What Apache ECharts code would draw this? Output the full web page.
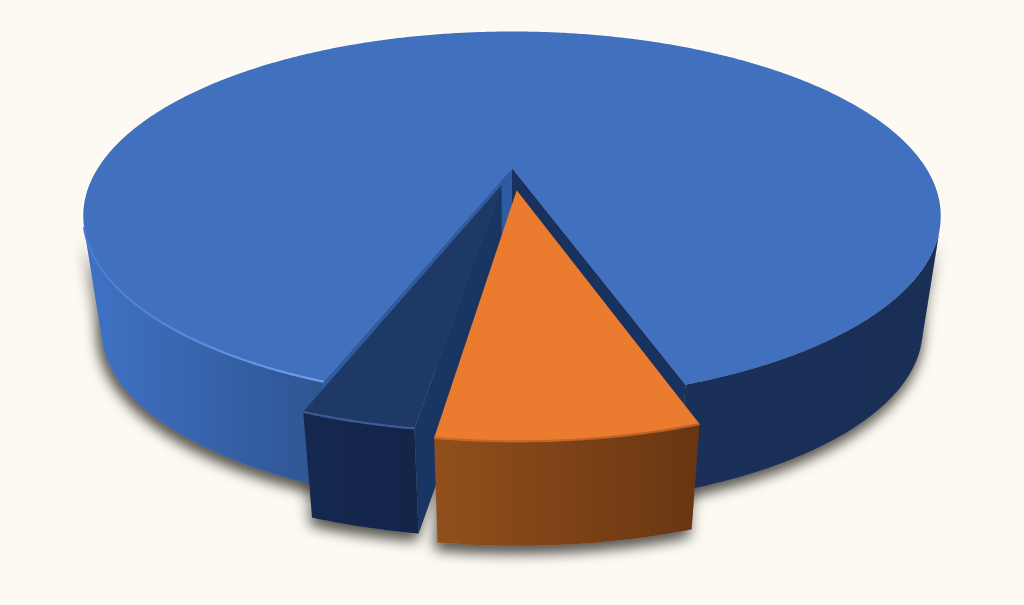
<!DOCTYPE html>
<html><head><meta charset="utf-8">
<style>html,body{margin:0;padding:0;background:#fdf9f3}#c{width:1024px;height:605px;filter:blur(0.5px)}</style>
<script src="https://cdn.jsdelivr.net/npm/echarts@6/dist/echarts.min.js"></script>
</head><body><div id="c"></div>
<script>
// data (share of the full circle, %)
const sliceNames  = ['A', 'B', 'C'];
const sliceValues = [89.3, 3.28, 7.42];

// drawing parameters
const startAngle = 18.4;             // degrees clockwise from the front of the disk
const explode = [0, 0.1, 0.125];
const view = {cx: 512, cy: 168, A: 414, B: 172, k: 0.26, vpY: 2900, t: 0.0425};
const topColors = ['#4170bf', '#1f3967', '#ea7b2f'];
const bevelStops = [
  [[0, '#4a7ccb'], [1, '#6f9fec']],
  [[0, '#3c5c93'], [1, '#3c5c93']],
  [[0, '#c9692a'], [1, '#b85f24']]
];
const bevelLimit = [72, 90, 90];
const startWall = ['#19315f', '#1f3967', '#8f4d1c'];
const endWall   = ['#2f5ba3', '#193563', '#8f4d1c'];
const wallStops = [
  [[0, '#3f72c4'], [0.27, '#2f5593'], [0.7, '#1b3059'], [1, '#1a2f56']],
  [[0, '#15284f'], [1, '#132449']],
  [[0, '#924f1c'], [1, '#693612']]
];
const wallRanges = [[90, 940], [303, 420], [432, 697]];

const rad = d => d * Math.PI / 180;
const project = (u, v) => {
  const w = 1 - view.k * v;
  return [view.cx + view.A * u / w, view.cy + view.B * v / w];
};
const drop = p => [p[0] + (view.cx - p[0]) * view.t, p[1] + (view.vpY - p[1]) * view.t];
const norm = d => ((d + 180) % 360 + 360) % 360 - 180;

const total = sliceValues.reduce((a, b) => a + b, 0);

function sliceGeometry(i, value) {
  let before = 0;
  for (let j = 0; j < i; j++) before += sliceValues[j];
  const a0 = startAngle + before / total * 360;
  const a1 = a0 + value / total * 360;
  const mid = rad((a0 + a1) / 2);
  const ou = Math.sin(mid) * explode[i], ov = Math.cos(mid) * explode[i];
  const rim = a => project(ou + Math.sin(rad(a)), ov + Math.cos(rad(a)));
  const apex = project(ou, ov);
  const arcAngles = [];
  const steps = Math.max(8, Math.ceil((a1 - a0) * 2));
  for (let s = 0; s <= steps; s++) arcAngles.push(a0 + (a1 - a0) * s / steps);
  // an outer-wall point faces the viewer while the rim tangent and the drop direction keep their sign
  const facing = a => {
    const p = rim(a), q = drop(p), b = rim(a - 0.5), c = rim(a + 0.5);
    return (c[0] - b[0]) * (q[1] - p[1]) - (c[1] - b[1]) * (q[0] - p[0]) > 0;
  };
  const runs = [];
  let run = null;
  arcAngles.forEach(a => {
    if (facing(a)) { if (!run) { run = []; runs.push(run); } run.push(a); }
    else run = null;
  });
  return {a0, a1, rim, apex, arcAngles, runs};
}

function renderShadow(params, api) {
  const i = params.dataIndex;
  const g = sliceGeometry(i, api.value(0));
  const shadow = {fill: '#9a978e', shadowBlur: 14, shadowColor: 'rgba(60,58,52,0.65)', shadowOffsetY: 6, shadowOffsetX: -2};
  const children = [{type: 'polygon', shape: {points: [g.apex].concat(g.arcAngles.map(g.rim)).map(drop)}, style: shadow}];
  g.runs.forEach(r => {
    const up = r.map(g.rim);
    children.push({type: 'polygon', shape: {points: up.concat(up.map(drop).reverse())}, style: shadow});
  });
  return {type: 'group', children: children};
}

function renderSlice(params, api) {
  const i = params.dataIndex;
  const g = sliceGeometry(i, api.value(0));
  const arc = g.arcAngles.map(g.rim);
  const children = [];

  // cut faces that look toward the viewer
  if (norm(g.a0) > 0) {
    const c = g.rim(g.a0);
    children.push({type: 'polygon', shape: {points: [g.apex, c, drop(c), drop(g.apex)]}, style: {fill: startWall[i]}});
  }
  if (norm(g.a1) < 0) {
    const c = g.rim(g.a1);
    children.push({type: 'polygon', shape: {points: [g.apex, c, drop(c), drop(g.apex)]}, style: {fill: endWall[i]}});
  }

  // outer wall
  const fill = new echarts.graphic.LinearGradient(wallRanges[i][0], 0, wallRanges[i][1], 0,
    wallStops[i].map(s => ({offset: s[0], color: s[1]})), true);
  g.runs.forEach(r => {
    const up = r.map(g.rim);
    children.push({type: 'polygon', shape: {points: up.concat(up.map(drop).reverse())}, style: {fill: fill}});
  });

  // top face
  children.push({type: 'polygon', shape: {points: [g.apex].concat(arc)}, style: {fill: topColors[i]}});

  // bright bevel along the front rim (left-hand light)
  const bevel = g.arcAngles.filter(a => (norm(a) < 0 || i > 0) && Math.abs(norm(a)) <= bevelLimit[i]).map(g.rim);
  if (bevel.length > 1) {
    const xs = bevel.map(p => p[0]);
    const stroke = new echarts.graphic.LinearGradient(Math.min.apply(null, xs), 0, Math.max.apply(null, xs), 0,
      bevelStops[i].map(s => ({offset: s[0], color: s[1]})), true);
    children.push({type: 'polyline', shape: {points: bevel}, style: {fill: null, stroke: stroke, lineWidth: 2.2}});
  }
  return {type: 'group', children: children};
}

const seriesData = sliceValues.map((v, i) => ({name: sliceNames[i], value: [v]}));
const chart = echarts.init(document.getElementById('c'), null, {renderer: 'canvas'});
chart.setOption({
  backgroundColor: '#fdf9f3',
  animation: false,
  series: [
    {type: 'custom', coordinateSystem: 'none', z: 1, silent: true, renderItem: renderShadow, data: seriesData},
    {type: 'custom', coordinateSystem: 'none', z: 2, renderItem: renderSlice, data: seriesData}
  ]
});
</script></body></html>
